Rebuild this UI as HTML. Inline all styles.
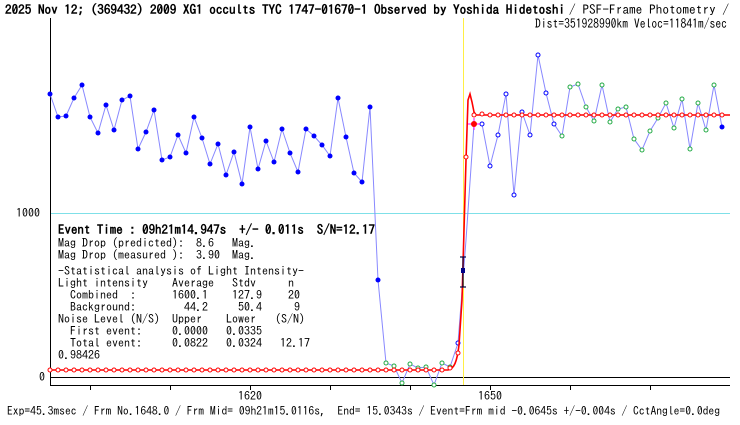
<!DOCTYPE html>
<html><head><meta charset="utf-8"><style>
html,body{margin:0;padding:0;background:#fff;}
svg{display:block;font-family:"IPAGothic","Liberation Sans",sans-serif;}
svg text{white-space:pre;}
</style></head><body>
<svg width="740" height="425" viewBox="0 0 740 425" xmlns="http://www.w3.org/2000/svg">
<rect width="740" height="425" fill="#fff"/>
<text x="5" y="14" font-size="13" font-weight="bold" textLength="560" lengthAdjust="spacingAndGlyphs">2025 Nov 12; (369432) 2009 XG1 occults TYC 1747-01670-1 Observed by Yoshida Hidetoshi</text>
<text x="569" y="14" font-size="13" textLength="160" lengthAdjust="spacingAndGlyphs">/ PSF-Frame Photometry /</text>
<text x="535" y="28" font-size="13" textLength="192" lengthAdjust="spacingAndGlyphs">Dist=351928990km Veloc=11841m/sec</text>
<line x1="50.5" y1="18" x2="50.5" y2="385" stroke="#000"/>
<line x1="51" y1="213.5" x2="730" y2="213.5" stroke="#7fe0e8"/>
<line x1="50" y1="377.5" x2="730" y2="377.5" stroke="#000"/>
<line x1="50" y1="385.5" x2="730" y2="385.5" stroke="#000"/>
<line x1="463.5" y1="18" x2="463.5" y2="385" stroke="#ffee44"/>
<g stroke="#000"><line x1="90.5" y1="385" x2="90.5" y2="390"/><line x1="170.5" y1="385" x2="170.5" y2="390"/><line x1="250.5" y1="385" x2="250.5" y2="390"/><line x1="330.5" y1="385" x2="330.5" y2="390"/><line x1="410.5" y1="385" x2="410.5" y2="390"/><line x1="490.5" y1="385" x2="490.5" y2="390"/><line x1="570.5" y1="385" x2="570.5" y2="390"/><line x1="650.5" y1="385" x2="650.5" y2="390"/></g>
<text x="40" y="217" font-size="12" text-anchor="end">1000</text>
<text x="45" y="381" font-size="12" text-anchor="end">0</text>
<text x="250" y="400" font-size="12" text-anchor="middle">1620</text>
<text x="490" y="400" font-size="12" text-anchor="middle">1650</text>
<polyline fill="none" stroke="#8888ff" stroke-width="1" points="50,94 58,117 66,116 74,98 82,85 90,117 98,133 106,105 114,130 122,100 130,96 138,149 146,132 154,110 162,160 170,157 178,135 186,153 194,117 202,138 210,164 218,144 226,175 234,152 242,184 250,127 258,169 266,141 274,162 282,129 290,153 298,172 306,129 314,136 322,145 330,156 338,98 346,137 354,173 362,182 370,107 378,280 386,363 394,366 402,383 410,364 418,368 426,367 434,385 442,363 450,367 458,343 466,240 474,124 482,124 490,166 498,135 506,94 514,195 522,112 530,135 538,55 546,93 554,124 562,136 570,87 578,84 586,107 594,121 602,85 610,122 618,109 626,107 634,139 642,150 650,131 658,118 666,103 674,128 682,99 690,149 698,103 706,130 714,85 722,127"/>
<g fill="#0000ff">
<circle cx="50" cy="94" r="2.5"/><circle cx="58" cy="117" r="2.5"/><circle cx="66" cy="116" r="2.5"/><circle cx="74" cy="98" r="2.5"/><circle cx="82" cy="85" r="2.5"/><circle cx="90" cy="117" r="2.5"/><circle cx="98" cy="133" r="2.5"/><circle cx="106" cy="105" r="2.5"/><circle cx="114" cy="130" r="2.5"/><circle cx="122" cy="100" r="2.5"/><circle cx="130" cy="96" r="2.5"/><circle cx="138" cy="149" r="2.5"/><circle cx="146" cy="132" r="2.5"/><circle cx="154" cy="110" r="2.5"/><circle cx="162" cy="160" r="2.5"/><circle cx="170" cy="157" r="2.5"/><circle cx="178" cy="135" r="2.5"/><circle cx="186" cy="153" r="2.5"/><circle cx="194" cy="117" r="2.5"/><circle cx="202" cy="138" r="2.5"/><circle cx="210" cy="164" r="2.5"/><circle cx="218" cy="144" r="2.5"/><circle cx="226" cy="175" r="2.5"/><circle cx="234" cy="152" r="2.5"/><circle cx="242" cy="184" r="2.5"/><circle cx="250" cy="127" r="2.5"/><circle cx="258" cy="169" r="2.5"/><circle cx="266" cy="141" r="2.5"/><circle cx="274" cy="162" r="2.5"/><circle cx="282" cy="129" r="2.5"/><circle cx="290" cy="153" r="2.5"/><circle cx="298" cy="172" r="2.5"/><circle cx="306" cy="129" r="2.5"/><circle cx="314" cy="136" r="2.5"/><circle cx="322" cy="145" r="2.5"/><circle cx="330" cy="156" r="2.5"/><circle cx="338" cy="98" r="2.5"/><circle cx="346" cy="137" r="2.5"/><circle cx="354" cy="173" r="2.5"/><circle cx="362" cy="182" r="2.5"/><circle cx="370" cy="107" r="2.5"/><circle cx="378" cy="280" r="2.5"/><circle cx="722" cy="127" r="2.5"/>
</g>
<g fill="#fff" stroke="#22aa44" stroke-width="1">
<circle cx="386" cy="363" r="2"/><circle cx="394" cy="366" r="2"/><circle cx="402" cy="383" r="2"/><circle cx="410" cy="364" r="2"/><circle cx="418" cy="368" r="2"/><circle cx="426" cy="367" r="2"/><circle cx="434" cy="385" r="2"/><circle cx="442" cy="363" r="2"/><circle cx="450" cy="367" r="2"/>
<circle cx="562" cy="136" r="2"/><circle cx="570" cy="87" r="2"/><circle cx="578" cy="84" r="2"/><circle cx="586" cy="107" r="2"/><circle cx="594" cy="121" r="2"/><circle cx="602" cy="85" r="2"/><circle cx="610" cy="122" r="2"/><circle cx="618" cy="109" r="2"/><circle cx="626" cy="107" r="2"/><circle cx="634" cy="139" r="2"/><circle cx="642" cy="150" r="2"/><circle cx="650" cy="131" r="2"/><circle cx="658" cy="118" r="2"/><circle cx="666" cy="103" r="2"/><circle cx="674" cy="128" r="2"/><circle cx="682" cy="99" r="2"/><circle cx="690" cy="149" r="2"/><circle cx="698" cy="103" r="2"/><circle cx="706" cy="130" r="2"/><circle cx="714" cy="85" r="2"/>
</g>
<g fill="#fff" stroke="#0000ff" stroke-width="1">
<circle cx="458" cy="343" r="2"/><circle cx="482" cy="124" r="2"/><circle cx="490" cy="166" r="2"/><circle cx="498" cy="135" r="2"/><circle cx="506" cy="94" r="2"/><circle cx="514" cy="195" r="2"/><circle cx="522" cy="112" r="2"/><circle cx="530" cy="135" r="2"/><circle cx="538" cy="55" r="2"/><circle cx="546" cy="93" r="2"/><circle cx="554" cy="124" r="2"/>
</g>
<path d="M50,370 L448,370 C454,369 457,362 459,345 L462,300 L464,230 L466,160 L468,100 L470,94 L472,102 L474,112 L476,115 L730,115" fill="none" stroke="#ff0000" stroke-width="1.6"/>
<g fill="#fff" stroke="#ff0000" stroke-width="1">
<circle cx="50" cy="370" r="2"/><circle cx="58" cy="370" r="2"/><circle cx="66" cy="370" r="2"/><circle cx="74" cy="370" r="2"/><circle cx="82" cy="370" r="2"/><circle cx="90" cy="370" r="2"/><circle cx="98" cy="370" r="2"/><circle cx="106" cy="370" r="2"/><circle cx="114" cy="370" r="2"/><circle cx="122" cy="370" r="2"/><circle cx="130" cy="370" r="2"/><circle cx="138" cy="370" r="2"/><circle cx="146" cy="370" r="2"/><circle cx="154" cy="370" r="2"/><circle cx="162" cy="370" r="2"/><circle cx="170" cy="370" r="2"/><circle cx="178" cy="370" r="2"/><circle cx="186" cy="370" r="2"/><circle cx="194" cy="370" r="2"/><circle cx="202" cy="370" r="2"/><circle cx="210" cy="370" r="2"/><circle cx="218" cy="370" r="2"/><circle cx="226" cy="370" r="2"/><circle cx="234" cy="370" r="2"/><circle cx="242" cy="370" r="2"/><circle cx="250" cy="370" r="2"/><circle cx="258" cy="370" r="2"/><circle cx="266" cy="370" r="2"/><circle cx="274" cy="370" r="2"/><circle cx="282" cy="370" r="2"/><circle cx="290" cy="370" r="2"/><circle cx="298" cy="370" r="2"/><circle cx="306" cy="370" r="2"/><circle cx="314" cy="370" r="2"/><circle cx="322" cy="370" r="2"/><circle cx="330" cy="370" r="2"/><circle cx="338" cy="370" r="2"/><circle cx="346" cy="370" r="2"/><circle cx="354" cy="370" r="2"/><circle cx="362" cy="370" r="2"/><circle cx="370" cy="370" r="2"/><circle cx="378" cy="370" r="2"/><circle cx="386" cy="370" r="2"/><circle cx="394" cy="370" r="2"/><circle cx="402" cy="370" r="2"/><circle cx="410" cy="370" r="2"/><circle cx="418" cy="370" r="2"/><circle cx="426" cy="370" r="2"/><circle cx="434" cy="370" r="2"/><circle cx="442" cy="370" r="2"/><circle cx="450" cy="368" r="2"/><circle cx="458" cy="353" r="2"/><circle cx="466" cy="157" r="2"/><circle cx="474" cy="115" r="2"/><circle cx="482" cy="114" r="2"/><circle cx="490" cy="115" r="2"/><circle cx="498" cy="115" r="2"/><circle cx="506" cy="115" r="2"/><circle cx="514" cy="115" r="2"/><circle cx="522" cy="115" r="2"/><circle cx="530" cy="115" r="2"/><circle cx="538" cy="115" r="2"/><circle cx="546" cy="115" r="2"/><circle cx="554" cy="115" r="2"/><circle cx="562" cy="115" r="2"/><circle cx="570" cy="115" r="2"/><circle cx="578" cy="115" r="2"/><circle cx="586" cy="115" r="2"/><circle cx="594" cy="115" r="2"/><circle cx="602" cy="115" r="2"/><circle cx="610" cy="115" r="2"/><circle cx="618" cy="115" r="2"/><circle cx="626" cy="115" r="2"/><circle cx="634" cy="115" r="2"/><circle cx="642" cy="115" r="2"/><circle cx="650" cy="115" r="2"/><circle cx="658" cy="115" r="2"/><circle cx="666" cy="115" r="2"/><circle cx="674" cy="115" r="2"/><circle cx="682" cy="115" r="2"/><circle cx="690" cy="115" r="2"/><circle cx="698" cy="115" r="2"/><circle cx="706" cy="115" r="2"/><circle cx="714" cy="115" r="2"/><circle cx="722" cy="115" r="2"/>
</g>
<g stroke="#ff00ff" stroke-width="1"><line x1="468" y1="124" x2="480" y2="124"/><line x1="474" y1="118" x2="474" y2="130"/></g>
<circle cx="474" cy="124" r="3" fill="#ff0000"/>
<g stroke="#000044" stroke-width="1.2"><line x1="463" y1="257" x2="463" y2="287"/><line x1="460" y1="257" x2="466" y2="257"/><line x1="460" y1="287" x2="466" y2="287"/></g>
<rect x="461" y="268" width="4" height="5" fill="#000088"/>
<text x="58" y="234" font-size="13" font-weight="bold" textLength="317" lengthAdjust="spacingAndGlyphs">Event Time : 09h21m14.947s  +/- 0.011s  S/N=12.17</text>
<g font-size="12">
<text x="58" y="247">Mag Drop (predicted):</text><text x="196" y="247">8.6</text><text x="232" y="247">Mag.</text>
<text x="58" y="259">Mag Drop (measured ):</text><text x="196" y="259">3.90</text><text x="232" y="259">Mag.</text>
<text x="58" y="275">-Statistical analysis of Light Intensity-</text>
<text x="58" y="287">Light intensity</text><text x="172" y="287">Average</text><text x="232" y="287">Stdv</text><text x="288" y="287">n</text>
<text x="70" y="299">Combined  :</text><text x="172" y="299">1600.1</text><text x="232" y="299">127.9</text><text x="288" y="299">20</text>
<text x="70" y="311">Background:</text><text x="184" y="311">44.2</text><text x="238" y="311">50.4</text><text x="294" y="311">9</text>
<text x="58" y="323">Noise Level (N/S)</text><text x="172" y="323">Upper</text><text x="226" y="323">Lower</text><text x="275" y="323">(S/N)</text>
<text x="70" y="335">First event:</text><text x="172" y="335">0.0000</text><text x="226" y="335">0.0335</text>
<text x="70" y="347">Total event:</text><text x="172" y="347">0.0822</text><text x="226" y="347">0.0324</text><text x="280" y="347">12.17</text>
<text x="58" y="359">0.98426</text>
</g>
<text x="7" y="415" font-size="12" textLength="713" lengthAdjust="spacingAndGlyphs">Exp=45.3msec / Frm No.1648.0 / Frm Mid= 09h21m15.0116s,  End= 15.0343s / Event=Frm mid -0.0645s +/-0.004s / CctAngle=0.0deg</text>
</svg>
</body></html>
